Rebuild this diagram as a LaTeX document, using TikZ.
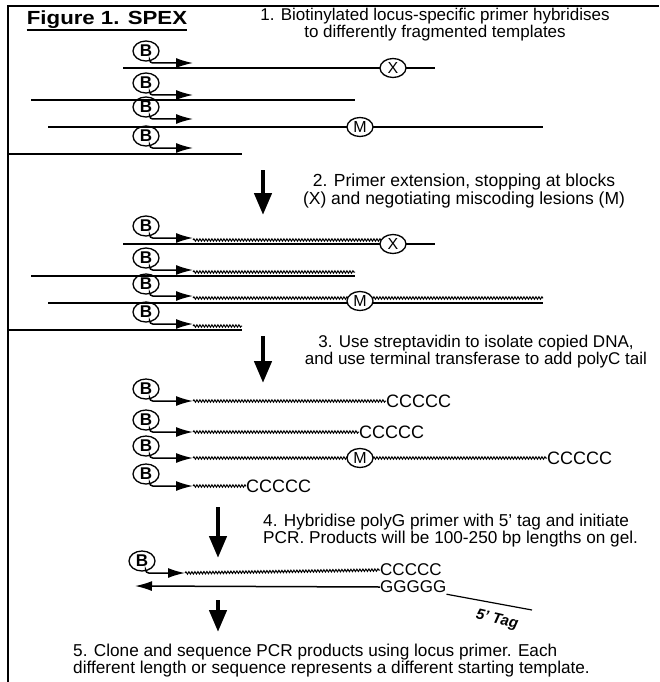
\documentclass[tikz,border=0pt]{standalone}
\usepackage{fontspec}
\setmainfont{Liberation Sans}
\usetikzlibrary{arrows.meta,decorations.pathmorphing,shapes.geometric}
\tikzset{
  bio/.style={ellipse,draw,line width=1.3pt,inner sep=0pt,minimum width=26pt,minimum height=20pt,font=\bfseries\fontsize{17}{17}\selectfont},
  lesion/.style={ellipse,draw,line width=1.3pt,inner sep=0pt,minimum width=26pt,minimum height=19pt,fill=white,font=\fontsize{16}{16}\selectfont},
  tmpl/.style={line width=1.6pt},
  primer/.style={line width=1.5pt,rounded corners=3pt,-{Latex[length=17pt,width=10pt]}},
  wavy/.style={line width=1pt,decorate,decoration={snake,amplitude=1.2pt,segment length=3pt}},
  bigarrow/.style={line width=4.5pt,-{Triangle[length=22pt,width=17pt]}},
  steptext/.style={align=center,inner sep=0pt},
  steptextl/.style={align=left,inner sep=0pt,anchor=west},
  tail/.style={font=\fontsize{18}{18}\selectfont,inner sep=0pt,anchor=west}
}
\begin{document}
\begin{tikzpicture}[x=1pt,y=-1pt]
\useasboundingbox (0,0) rectangle (659,682);
% frame
\draw[line width=1.5pt] (8,682) -- (8,6) -- (659,6);
\node[font=\bfseries\fontsize{19}{19}\selectfont,inner sep=0pt,anchor=base] (title) at (107,25) {\scalebox{1.17}[1]{Figure 1. SPEX}};
\draw[line width=1.8pt] ([yshift=-5pt]title.base west) -- ([yshift=-5pt]title.base east);

% step 1
\node[steptext,font=\fontsize{17}{17}\selectfont] (s1) at (435,25) {1. Biotinylated locus-specific primer hybridises\\to differently fragmented templates};
\node[bio] (b11) at (146,51) {B};
\node[bio] (b12) at (146,83) {B};
\node[bio] (b13) at (146,107) {B};
\node[bio] (b14) at (146,136) {B};
\coordinate (p11) at (193,63);
\coordinate (p12) at (193,95);
\coordinate (p13) at (193,119);
\coordinate (p14) at (193,148);
\draw[primer] (b11.290) |- (p11);
\draw[primer] (b12.290) |- (p12);
\draw[primer] (b13.290) |- (p13);
\draw[primer] (b14.290) |- (p14);
\coordinate (t11a) at (123,68); \coordinate (t11b) at (435,68);
\coordinate (t12a) at (31,100); \coordinate (t12b) at (355,100);
\coordinate (t13a) at (48,127); \coordinate (t13b) at (543,127);
\coordinate (t14a) at (8,154); \coordinate (t14b) at (242,154);
\draw[tmpl] (t11a) -- (t11b);
\draw[tmpl] (t12a) -- (t12b);
\draw[tmpl] (t13a) -- (t13b);
\draw[tmpl] (t14a) -- (t14b);
\node[lesion] (x1) at (393,68) {X};
\node[lesion] (m1) at (360,127) {M};

% arrow 1
\coordinate (a1s) at (263,170); \coordinate (a1e) at (263,215);
\draw[bigarrow] (a1s) -- (a1e);

% step 2
\node[steptext,font=\fontsize{17.5}{16}\selectfont] (s2) at (464,191) {2. Primer extension, stopping at blocks\\(X) and negotiating miscoding lesions (M)};
\node[bio] (b21) at (146,226) {B};
\node[bio] (b22) at (146,258) {B};
\node[bio] (b23) at (146,284) {B};
\node[bio] (b24) at (146,312) {B};
\coordinate (p21) at (193,238);
\coordinate (p22) at (193,270);
\coordinate (p23) at (193,296);
\coordinate (p24) at (193,324);
\coordinate (t21a) at (123,244); \coordinate (t21b) at (435,244);
\coordinate (t22a) at (31,276); \coordinate (t22b) at (355,276);
\coordinate (t23a) at (48,303); \coordinate (t23b) at (543,303);
\coordinate (t24a) at (8,330); \coordinate (t24b) at (242,330);
\draw[tmpl] (t21a) -- (t21b);
\draw[tmpl] (t22a) -- (t22b);
\draw[tmpl] (t23a) -- (t23b);
\draw[tmpl] (t24a) -- (t24b);
\coordinate (w21a) at (193,240); \coordinate (w21b) at (381,240);
\coordinate (w22a) at (193,272); \coordinate (w22b) at (355,272);
\coordinate (w23a) at (193,298); \coordinate (w23b) at (543,298);
\coordinate (w24a) at (193,326); \coordinate (w24b) at (242,326);
\draw[wavy] (w21a) -- (w21b);
\draw[wavy] (w22a) -- (w22b);
\draw[wavy] (w23a) -- (w23b);
\draw[wavy] (w24a) -- (w24b);
\draw[primer] (b21.290) |- (p21);
\draw[primer] (b22.290) |- (p22);
\draw[primer] (b23.290) |- (p23);
\draw[primer] (b24.290) |- (p24);
\node[lesion] (x2) at (393,244) {X};
\node[lesion] (m2) at (360,301) {M};

% arrow 2
\coordinate (a2s) at (263,336); \coordinate (a2e) at (263,383);
\draw[bigarrow] (a2s) -- (a2e);

% step 3
\node[steptext,font=\fontsize{17}{17}\selectfont] (s3) at (476,352) {3. Use streptavidin to isolate copied DNA,\\and use terminal transferase to add polyC tail};
\node[bio] (b31) at (146,389) {B};
\node[bio] (b32) at (146,420) {B};
\node[bio] (b33) at (146,446) {B};
\node[bio] (b34) at (146,474) {B};
\coordinate (p31) at (193,401);
\coordinate (p32) at (193,432);
\coordinate (p33) at (193,458);
\coordinate (p34) at (193,486);
\node[tail] (c31) at (386,401) {CCCCC};
\node[tail] (c32) at (359,432) {CCCCC};
\node[tail] (c33) at (547,458) {CCCCC};
\node[tail] (c34) at (246,486) {CCCCC};
\draw[wavy] (p31) -- (c31.west);
\draw[wavy] (p32) -- (c32.west);
\draw[wavy] (p33) -- (c33.west);
\draw[wavy] (p34) -- (c34.west);
\draw[primer] (b31.290) |- (p31);
\draw[primer] (b32.290) |- (p32);
\draw[primer] (b33.290) |- (p33);
\draw[primer] (b34.290) |- (p34);
\node[lesion] (m3) at (360,458) {M};

% arrow 3
\coordinate (a3s) at (218,507); \coordinate (a3e) at (218,558);
\draw[bigarrow] (a3s) -- (a3e);

% step 4
\node[steptextl,font=\fontsize{17.2}{17}\selectfont] (s4) at (263,531) {4. Hybridise polyG primer with 5’ tag and initiate\\PCR. Products will be 100-250 bp lengths on gel.};
\node[bio] (b41) at (142,561) {B};
\coordinate (p41) at (185,573);
\node[tail,font=\fontsize{17}{17}\selectfont] (c41) at (380,570) {CCCCC};
\node[tail,font=\fontsize{17}{17}\selectfont] (g41) at (380,587) {GGGGG};
\draw[wavy] (p41) -- (c41.west);
\draw[primer] (b41.290) |- (p41);
\coordinate (r41) at (135,586);
\draw[primer] (g41.west) -- (r41);
\coordinate (tg2) at (532,610);
\draw[line width=1.2pt] ([yshift=-1pt]g41.south east) -- (tg2);
\node[font=\bfseries\itshape\fontsize{15}{15}\selectfont,rotate=-13,inner sep=0pt] (tag) at (497,620) {5’ Tag};

% arrow 4
\coordinate (a4s) at (218,600); \coordinate (a4e) at (218,632);
\draw[bigarrow] (a4s) -- (a4e);

% step 5
\node[steptextl,font=\fontsize{17.2}{17}\selectfont] (s5) at (73,661) {5. Clone and sequence PCR products using locus primer. Each\\different length or sequence represents a different starting template.};
\end{tikzpicture}
\end{document}
